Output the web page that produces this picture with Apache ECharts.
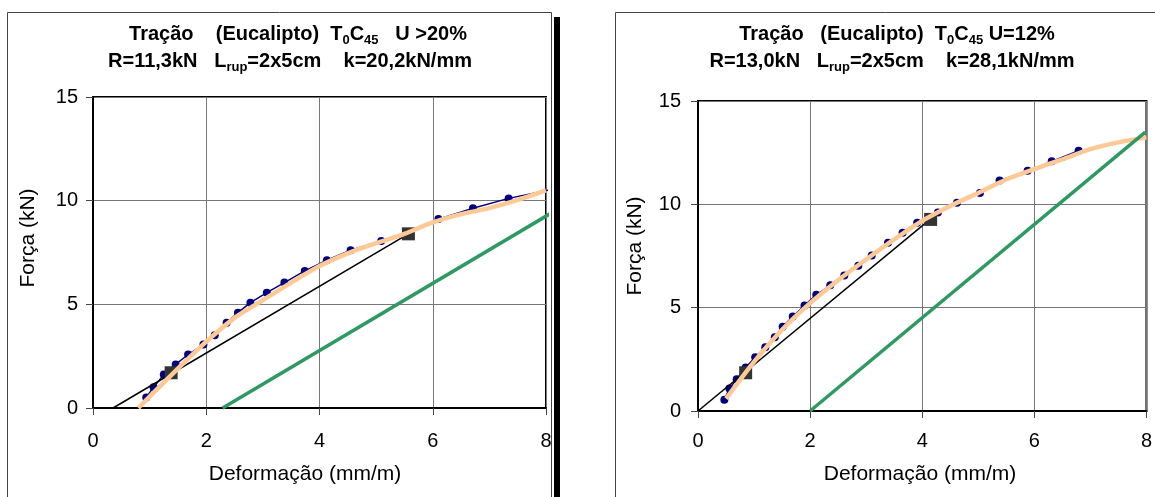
<!DOCTYPE html>
<html><head><meta charset="utf-8">
<script src="https://cdn.jsdelivr.net/npm/echarts@6/dist/echarts.min.js"></script>
<style>html,body{margin:0;padding:0;background:#fff}#c{width:1155px;height:497px}</style>
</head><body><div id="c"></div>
<script>
// ---------------- data ----------------
const xTickValues = [0, 2, 4, 6, 8];
const yTickValues = [0, 5, 10, 15];

// Left chart (U > 20%)
const leftDataX = [0.94,1.07,1.25,1.46,1.68,1.95,2.15,2.36,2.56,2.78,3.07,3.38,3.74,4.13,4.55,5.09,5.55,6.10,6.71,7.34,8.08];
const leftDataY = [0.51,1.00,1.61,2.10,2.58,3.06,3.51,4.11,4.60,5.08,5.56,6.05,6.61,7.13,7.61,8.06,8.45,9.11,9.63,10.11,10.53];
const leftTrendX = [0.80,1.00,1.50,2.00,2.50,3.00,3.50,4.00,4.50,5.00,5.50,6.00,6.50,7.00,7.50,8.00];
const leftTrendY = [0.00,0.55,1.90,3.20,4.35,5.20,6.05,6.85,7.46,7.95,8.40,8.95,9.35,9.64,10.04,10.50];
const leftSecantX = [0.354, 5.57];
const leftSecantY = [0.00, 8.40];
const leftSquareX = [1.38, 5.57];
const leftSquareY = [1.70, 8.40];
const leftGreenX = [2.29, 8.09];
const leftGreenY = [0.00, 9.40];

// Right chart (U = 12%)
const rightDataX = [0.47,0.56,0.69,0.85,1.02,1.20,1.37,1.51,1.69,1.90,2.11,2.36,2.61,2.86,3.10,3.39,3.65,3.91,4.28,4.62,5.03,5.38,5.88,6.31,6.79];
const rightDataY = [0.55,1.09,1.54,2.11,2.60,3.08,3.57,4.08,4.57,5.10,5.62,6.08,6.56,7.03,7.52,8.14,8.62,9.11,9.60,10.08,10.55,11.15,11.62,12.08,12.59];
const rightTrendX = [0.50,1.00,1.50,2.00,2.50,3.00,3.50,4.00,4.50,5.00,5.50,6.00,6.50,7.00,7.50,8.00];
const rightTrendY = [0.60,2.38,3.93,5.22,6.33,7.33,8.30,9.20,9.92,10.55,11.20,11.70,12.18,12.67,13.00,13.24];
const rightSecantX = [0.00, 4.15];
const rightSecantY = [0.00, 9.30];
const rightSquareX = [0.85, 4.15];
const rightSquareY = [1.85, 9.27];
const rightGreenX = [2.00, 7.98];
const rightGreenY = [0.00, 13.49];

// texts
const titleLeft1 = ['Tração    (Eucalipto)  T', '0', 'C', '45', '   U >20%'];
const titleLeft2 = ['R=11,3kN   L', 'rup', '=2x5cm    k=20,2kN/mm'];
const titleRight1 = ['Tração   (Eucalipto)  T', '0', 'C', '45', ' U=12%'];
const titleRight2 = ['R=13,0kN   L', 'rup', '=2x5cm    k=28,1kN/mm'];
const xAxisTitle = 'Deformação (mm/m)';
const yAxisTitle = 'Força (kN)';

// ---------------- chart ----------------
const FONT = '"Liberation Sans", Arial, Helvetica, sans-serif';
const pairs = (xs, ys) => xs.map((x, i) => [x, ys[i]]);
const richTitle = {
  b: { fontSize: 20, fontWeight: 'bold', fontFamily: FONT, lineHeight: 26, color: '#000' },
  s: { fontSize: 13, fontWeight: 'bold', fontFamily: FONT, lineHeight: 13, padding: [13, 0, 0, 0], color: '#000' }
};
function richText(parts) {
  return parts.map((p, i) => (i % 2 === 0 ? '{b|' + p + '}' : '{s|' + p + '}')).join('');
}
function titleText(x, y, parts) {
  return { type: 'text', x: x, y: y, silent: true, z: 10,
    style: { text: richText(parts), rich: richTitle, align: 'center', verticalAlign: 'middle',
      fontFamily: FONT, fontSize: 20, fontWeight: 'bold', fill: '#000' } };
}
function plainText(x, y, t, rot) {
  return { type: 'text', x: x, y: y, rotation: rot || 0, silent: true, z: 10,
    style: { text: t, align: 'center', verticalAlign: 'middle', fontFamily: FONT, fontSize: 21, fill: '#000' } };
}

const grids = [
  { left: 93, top: 97, width: 453, height: 311 },
  { left: 698, top: 101, width: 455, height: 310 }
];

function xAx(i, margin) {
  return { type: 'value', gridIndex: i, min: xTickValues[0], max: xTickValues[xTickValues.length - 1], interval: 2,
    axisLine: { show: true, lineStyle: { color: '#000', width: 2 } },
    axisTick: { show: true, length: 7, lineStyle: { color: '#444', width: 1 } },
    axisLabel: { margin: margin, fontSize: 20, fontFamily: FONT, color: '#000', showMaxLabel: true, showMinLabel: true },
    splitLine: { show: true, lineStyle: { color: '#777', width: 1 } } };
}
function yAx(i, margin) {
  return { type: 'value', gridIndex: i, min: yTickValues[0], max: yTickValues[yTickValues.length - 1], interval: 5,
    axisLine: { show: true, lineStyle: { color: '#000', width: 2 } },
    axisTick: { show: true, length: 7, lineStyle: { color: '#444', width: 1 } },
    axisLabel: { margin: margin, fontSize: 20, fontFamily: FONT, color: '#000' },
    splitLine: { show: true, lineStyle: { color: '#777', width: 1 } } };
}

function chartSeries(i, dx, dy, tx, ty, sx, sy, qx, qy, gx, gy, xMax) {
  // points lying beyond the axis maximum keep their line but show no marker
  const dataItems = pairs(dx, dy).map(p => (p[0] > xMax ? { value: p, symbol: 'none' } : p));
  return [
    { type: 'line', xAxisIndex: i, yAxisIndex: i, data: dataItems, symbol: 'circle', symbolSize: 8,
      itemStyle: { color: '#000080', opacity: 1 }, lineStyle: { color: '#000080', width: 1.5 }, clip: false, z: 2 },
    { type: 'line', xAxisIndex: i, yAxisIndex: i, data: pairs(sx, sy), symbol: 'none',
      lineStyle: { color: '#000', width: 1.5 }, clip: false, z: 3 },
    { type: 'scatter', xAxisIndex: i, yAxisIndex: i, data: pairs(qx, qy), symbol: 'rect', symbolSize: 13,
      itemStyle: { color: '#333', opacity: 1 }, clip: false, z: 4 },
    { type: 'line', xAxisIndex: i, yAxisIndex: i, data: pairs(tx, ty), symbol: 'none', smooth: 0.3,
      lineStyle: { color: '#FFC995', width: 4.5 }, clip: false, z: 5 },
    { type: 'line', xAxisIndex: i, yAxisIndex: i, data: pairs(gx, gy), symbol: 'none',
      lineStyle: { color: '#2E9A62', width: 3.5 }, clip: false, z: 6 }
  ];
}

const xMaxVal = xTickValues[xTickValues.length - 1];
const chart = echarts.init(document.getElementById('c'), null, { renderer: 'canvas' });
chart.setOption({
  animation: false,
  backgroundColor: '#fff',
  textStyle: { fontFamily: FONT },
  grid: grids.map(g => Object.assign({ show: true, borderColor: '#000', borderWidth: 2, backgroundColor: 'transparent', containLabel: false }, g)),
  xAxis: [xAx(0, 23), xAx(1, 20)],
  yAxis: [yAx(0, 15), yAx(1, 17)],
  series: [].concat(
    chartSeries(0, leftDataX, leftDataY, leftTrendX, leftTrendY, leftSecantX, leftSecantY, leftSquareX, leftSquareY, leftGreenX, leftGreenY, xMaxVal),
    chartSeries(1, rightDataX, rightDataY, rightTrendX, rightTrendY, rightSecantX, rightSecantY, rightSquareX, rightSquareY, rightGreenX, rightGreenY, xMaxVal)
  ).map(s => Object.assign({ silent: true, emphasis: { disabled: true } }, s)),
  graphic: [
    { type: 'rect', shape: { x: 7.5, y: 12.5, width: 544, height: 500 }, style: { fill: 'none', stroke: '#444', lineWidth: 1 }, silent: true, z: -1 },
    { type: 'rect', shape: { x: 554, y: 17, width: 6, height: 500 }, style: { fill: '#000' }, silent: true, z: -1 },
    { type: 'rect', shape: { x: 615.5, y: 12.5, width: 620, height: 500 }, style: { fill: 'none', stroke: '#444', lineWidth: 1 }, silent: true, z: -1 },
    titleText(298, 34, titleLeft1),
    titleText(290, 61, titleLeft2),
    titleText(897, 34, titleRight1),
    titleText(892, 61, titleRight2),
    plainText(28, 238, yAxisTitle, Math.PI / 2),
    plainText(635, 246, yAxisTitle, Math.PI / 2),
    plainText(305, 474, xAxisTitle),
    plainText(920, 474, xAxisTitle)
  ]
});
</script></body></html>
